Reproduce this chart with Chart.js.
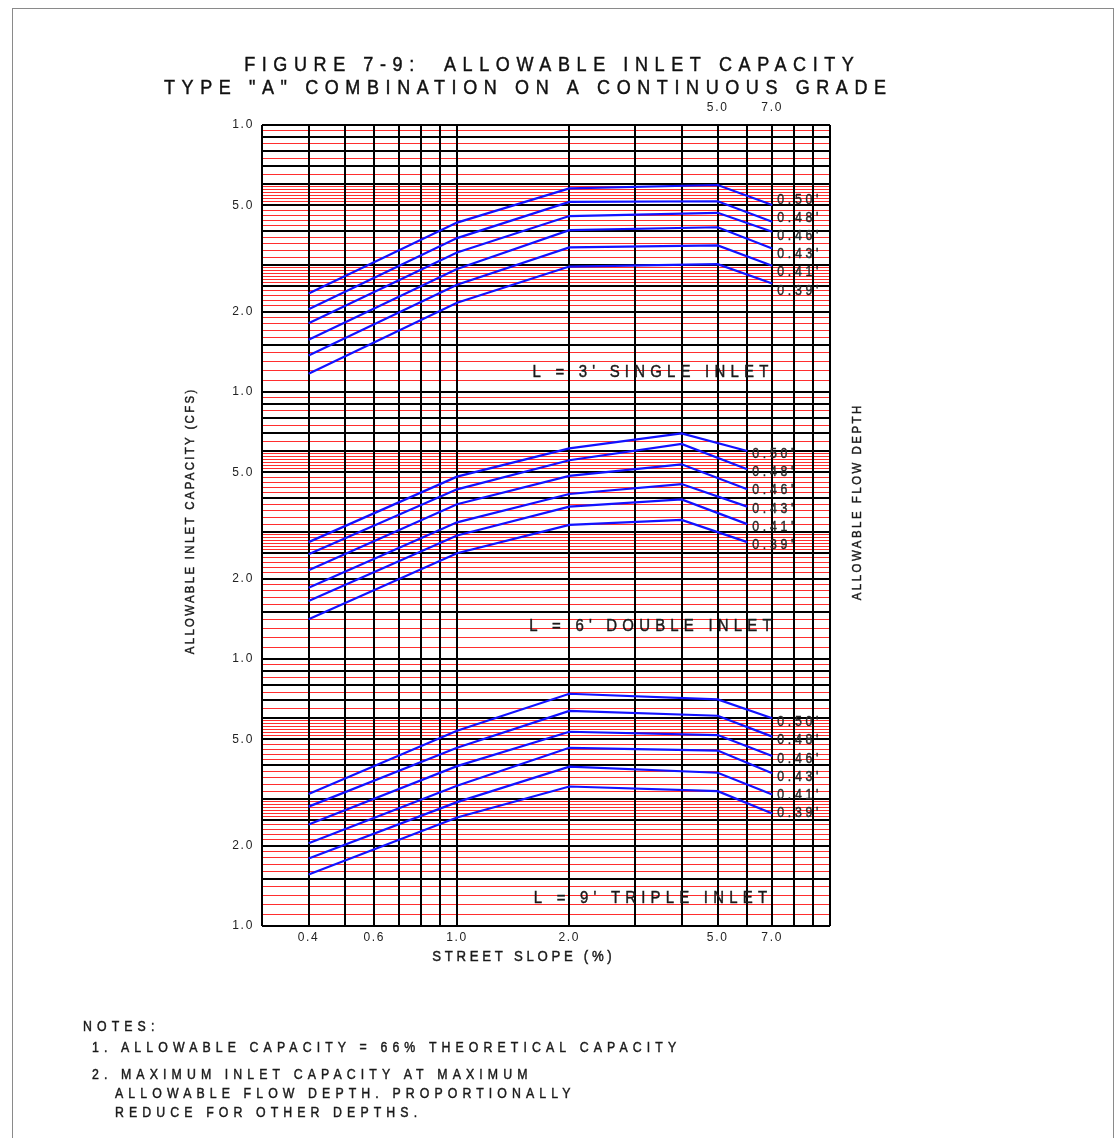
<!DOCTYPE html>
<html>
<head>
<meta charset="utf-8">
<title>Figure 7-9: Allowable Inlet Capacity</title>
<script src="https://cdn.jsdelivr.net/npm/chart.js@4.4.1/dist/chart.umd.min.js"></script>
<style>
  html, body { margin: 0; padding: 0; background: #fff; }
  #sheet { width: 1115px; height: 1138px; position: relative; }
  canvas { display: block; }
</style>
</head>
<body>
<div id="sheet"><canvas id="chart" width="1115" height="1138"></canvas></div>
<script>
// Street slope (%) at each break point of the curves
const slopesSingle = [0.4, 1.0, 2.0, 5.0, 7.0];
const slopesDouble = [0.4, 1.0, 2.0, 4.0, 6.0];
const slopesTriple = [0.4, 1.0, 2.0, 5.0, 7.0];

// Allowable flow depth of each curve
const depthLabels = ["0.50'", "0.48'", "0.46'", "0.43'", "0.41'", "0.39'"];

// Allowable inlet capacity (cfs), one row per flow depth, one column per slope
const singleInletCfs = [
  [2.34, 4.31, 5.79, 5.96, 5.02],
  [2.04, 3.77, 5.15, 5.18, 4.34],
  [1.81, 3.33, 4.56, 4.69, 3.98],
  [1.57, 2.89, 4.04, 4.14, 3.45],
  [1.37, 2.52, 3.48, 3.54, 2.97],
  [1.17, 2.16, 2.95, 3.01, 2.55]
];
const doubleInletCfs = [
  [2.74, 4.82, 6.15, 7.00, 6.01],
  [2.47, 4.32, 5.55, 6.39, 5.14],
  [2.15, 3.80, 4.85, 5.36, 4.32],
  [1.85, 3.25, 4.15, 4.52, 3.72],
  [1.65, 2.90, 3.72, 3.96, 3.20],
  [1.41, 2.49, 3.18, 3.32, 2.74]
];
const tripleInletCfs = [
  [3.12, 5.39, 7.41, 7.06, 6.00],
  [2.80, 4.65, 6.39, 6.13, 5.12],
  [2.40, 3.97, 5.34, 5.19, 4.33],
  [2.04, 3.35, 4.65, 4.54, 3.73],
  [1.79, 2.91, 3.95, 3.75, 3.11],
  [1.56, 2.55, 3.33, 3.20, 2.64]
];

// Log-paper rulings inside each capacity cycle
const cfsMajorLines = [1, 1.5, 2, 2.5, 3, 4, 5, 6, 7, 8, 9, 10];
const cfsMinorLines = [
  1.1, 1.2, 1.3, 1.4,
  1.6, 1.7, 1.8, 1.9,
  2.1, 2.2, 2.3, 2.4,
  2.57, 2.64, 2.71, 2.78, 2.86, 2.93,
  3.2, 3.4, 3.6, 3.8,
  4.2, 4.4, 4.6, 4.8,
  5.15, 5.3, 5.45, 5.6, 5.75, 5.9,
  6.5, 7.5, 8.5, 9.5
];
const cfsTickLabels = [1, 2, 5, 10];

// Slope rulings and labels
const slopeLines = [0.3, 0.4, 0.5, 0.6, 0.7, 0.8, 0.9, 1, 2, 3, 4, 5, 6, 7, 8, 9, 10];
const slopeTickLabels = [0.4, 0.6, 1, 2, 5, 7];
const slopeTopLabels = [5, 7];

const inletTitles = ["L = 3' SINGLE INLET", "L = 6' DOUBLE INLET", "L = 9' TRIPLE INLET"];
const noteLines = [
  "1. ALLOWABLE CAPACITY = 66% THEORETICAL CAPACITY",
  "2. MAXIMUM INLET CAPACITY AT MAXIMUM",
  "ALLOWABLE FLOW DEPTH. PROPORTIONALLY",
  "REDUCE FOR OTHER DEPTHS."
];

const FONT = '"Liberation Sans", Arial, Helvetica, sans-serif';
const near = (a, b) => Math.abs(a - b) < 1e-6;
const isMajor = v => cfsMajorLines.some(m => near(m, v));

// One log cycle per inlet length, stacked top to bottom
const panels = [
  { axis: 'ySingle', weight: 3, slopes: slopesSingle, cfs: singleInletCfs, title: inletTitles[0], titleAt: [3.3, 1.18], showTop: true },
  { axis: 'yDouble', weight: 2, slopes: slopesDouble, cfs: doubleInletCfs, title: inletTitles[1], titleAt: [3.3, 1.32], showTop: false },
  { axis: 'yTriple', weight: 1, slopes: slopesTriple, cfs: tripleInletCfs, title: inletTitles[2], titleAt: [3.3, 1.27], showTop: false }
];

const cycleTicks = cfsMinorLines.concat(cfsMajorLines).sort((a, b) => a - b);
const tickFont = { family: FONT, size: 12 };

const scales = {};
panels.forEach(p => {
  scales[p.axis] = {
    type: 'logarithmic',
    position: 'left',
    stack: 'capacity',
    stackWeight: 1,
    weight: p.weight,
    min: 1,
    max: 10,
    afterBuildTicks: s => { s.ticks = cycleTicks.map(v => ({ value: v })); },
    afterFit: s => { s.width = 62; },
    ticks: {
      autoSkip: false,
      padding: 8,
      color: '#222',
      font: tickFont,
      callback: v => {
        if (!cfsTickLabels.some(m => near(m, v))) return '';
        if (near(v, 10)) return p.showTop ? '1.0' : '';
        return Number(v).toFixed(1);
      }
    },
    grid: {
      drawTicks: false,
      z: -2,
      color: c => isMajor(c.tick.value) ? '#000' : 'rgba(255,0,0,0.82)',
      lineWidth: c => isMajor(c.tick.value) ? 2 : 1
    },
    border: { display: false }
  };
});

scales.x = {
  type: 'logarithmic',
  position: 'bottom',
  min: 0.3,
  max: 10,
  afterBuildTicks: s => { s.ticks = slopeLines.map(v => ({ value: v })); },
  afterFit: s => { s.height = 50; },
  ticks: {
    autoSkip: false,
    maxRotation: 0,
    minRotation: 0,
    padding: 4,
    color: '#222',
    font: tickFont,
    callback: v => slopeTickLabels.some(m => near(m, v)) ? Number(v).toFixed(1) : ''
  },
  grid: { drawTicks: false, z: -1, color: '#000', lineWidth: 2 },
  border: { display: false }
};

scales.xTop = {
  type: 'logarithmic',
  position: 'top',
  min: 0.3,
  max: 10,
  afterBuildTicks: s => { s.ticks = slopeTopLabels.map(v => ({ value: v })); },
  afterFit: s => { s.height = 25; },
  ticks: {
    autoSkip: false,
    maxRotation: 0,
    minRotation: 0,
    padding: 10,
    color: '#222',
    font: tickFont,
    callback: v => Number(v).toFixed(1)
  },
  grid: { display: false, drawTicks: false },
  border: { display: false }
};

const datasets = [];
panels.forEach(p => {
  p.cfs.forEach((row, i) => {
    datasets.push({
      label: p.title + ' ' + depthLabels[i],
      data: p.slopes.map((s, j) => ({ x: s, y: row[j] })),
      xAxisID: 'x',
      yAxisID: p.axis,
      borderColor: '#1212ff',
      borderWidth: 2.2,
      pointRadius: 0,
      fill: false,
      tension: 0
    });
  });
});

// Spaced, slightly condensed drafting lettering
function letter(ctx, str, x, y, s) {
  const squeeze = s.squeeze || 1;
  const gap = (s.spacing || 0) / squeeze;
  ctx.save();
  ctx.translate(x, y);
  if (s.rotate) ctx.rotate(s.rotate);
  ctx.scale(squeeze, 1);
  ctx.font = `${s.size}px ${FONT}`;
  ctx.letterSpacing = `${gap}px`;
  ctx.fillStyle = s.color || '#222';
  ctx.strokeStyle = s.color || '#222';
  ctx.lineWidth = 0.45;
  ctx.textAlign = 'left';
  ctx.textBaseline = 'middle';
  const w = ctx.measureText(str).width - gap;
  const x0 = s.align === 'center' ? -w / 2 : (s.align === 'right' ? -w : 0);
  ctx.fillText(str, x0, 0);
  ctx.strokeText(str, x0, 0);
  ctx.restore();
}

const STYLE = {
  title:  { size: 20, squeeze: 0.9, spacing: 6.6, color: '#111', align: 'center' },
  axisL:  { size: 13, squeeze: 0.88, spacing: 2.3, color: '#1a1a1a', align: 'center', rotate: -Math.PI / 2 },
  axisR:  { size: 13, squeeze: 0.88, spacing: 2.5, color: '#1a1a1a', align: 'center', rotate: -Math.PI / 2 },
  slope:  { size: 15, squeeze: 0.88, spacing: 3.7, color: '#1a1a1a', align: 'center' },
  inlet:  { size: 17, squeeze: 0.88, spacing: 5.2, color: '#1a1a1a', align: 'center' },
  depth:  { size: 14, squeeze: 0.88, spacing: 3.7, color: '#2a2a2a', align: 'left' },
  note:   { size: 14, squeeze: 0.88, spacing: 5.1, color: '#1a1a1a', align: 'left' }
};

const tickLettering = {
  id: 'tickLettering',
  beforeDraw(chart) { chart.ctx.letterSpacing = '1.7px'; }
};

const lettering = {
  id: 'lettering',
  afterDraw(chart) {
    const ctx = chart.ctx;
    const xs = chart.scales.x;
    const area = chart.chartArea;

    // sheet frame
    ctx.save();
    ctx.strokeStyle = '#8a8a8a';
    ctx.lineWidth = 1;
    ctx.strokeRect(12.5, 8.5, 1101, 1140);
    ctx.restore();

    letter(ctx, 'FIGURE 7-9:  ALLOWABLE INLET CAPACITY', 549, 65, STYLE.title);
    letter(ctx, 'TYPE "A" COMBINATION ON A CONTINUOUS GRADE', 525, 88, STYLE.title);

    letter(ctx, 'ALLOWABLE INLET CAPACITY (CFS)', 190, 522, STYLE.axisL);
    letter(ctx, 'ALLOWABLE FLOW DEPTH', 857, 503, STYLE.axisR);
    letter(ctx, 'STREET SLOPE (%)', (area.left + area.right) / 2 - 24, 957, STYLE.slope);

    panels.forEach(p => {
      const ys = chart.scales[p.axis];
      letter(ctx, p.title, xs.getPixelForValue(p.titleAt[0]), ys.getPixelForValue(p.titleAt[1]), STYLE.inlet);

      // depth tags stacked evenly beside the curve ends
      const last = p.slopes.length - 1;
      const endX = xs.getPixelForValue(p.slopes[last]);
      const ends = p.cfs.map(r => ys.getPixelForValue(r[last]));
      const mid = ends.reduce((a, b) => a + b, 0) / ends.length;
      const step = 18.2;
      depthLabels.forEach((t, i) => {
        letter(ctx, t, endX + 5, mid + 2.5 + (i - (depthLabels.length - 1) / 2) * step, STYLE.depth);
      });
    });

    letter(ctx, 'NOTES:', 83, 1027, STYLE.note);
    letter(ctx, noteLines[0], 92, 1048, STYLE.note);
    letter(ctx, noteLines[1], 92, 1075, STYLE.note);
    letter(ctx, noteLines[2], 115, 1094, STYLE.note);
    letter(ctx, noteLines[3], 115, 1113, STYLE.note);
  }
};

new Chart(document.getElementById('chart'), {
  type: 'line',
  data: { datasets },
  options: {
    responsive: false,
    animation: false,
    devicePixelRatio: 1,
    events: [],
    layout: { padding: { top: 100, left: 200, right: 285, bottom: 162 } },
    plugins: {
      legend: { display: false },
      tooltip: { enabled: false },
      title: { display: false }
    },
    scales
  },
  plugins: [tickLettering, lettering]
});
</script>
</body>
</html>
